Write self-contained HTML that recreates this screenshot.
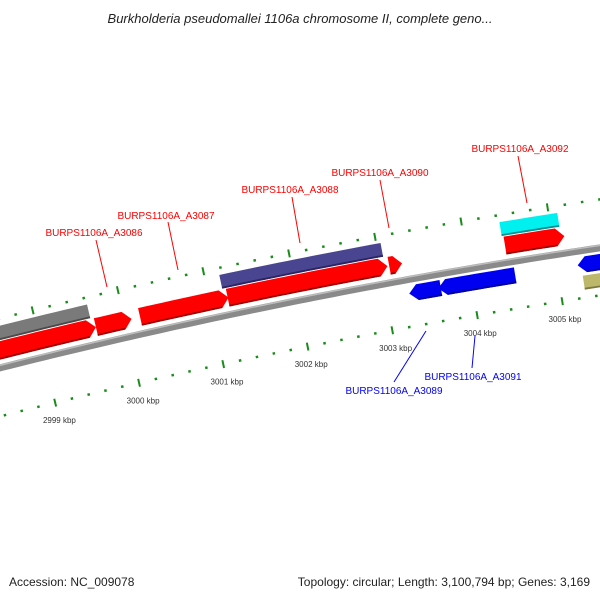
<!DOCTYPE html>
<html><head><meta charset="utf-8"><style>
html,body{margin:0;padding:0;background:#fff;}
svg{display:block;font-family:"Liberation Sans",sans-serif;}
</style></head><body>
<svg id="map" width="600" height="600" viewBox="0 0 600 600" xmlns="http://www.w3.org/2000/svg">
<rect x="0" y="0" width="600" height="600" fill="#fff"/>
<text x="300" y="23" text-anchor="middle" font-size="13" font-style="italic" fill="#222">Burkholderia pseudomallei 1106a chromosome II, complete geno...</text>
<g id="rulers"></g>
<g id="features"></g>
<g id="labels">
  <line x1="96" y1="240" x2="107" y2="287" stroke="#f00" stroke-width="1"/>
  <text x="94" y="236" text-anchor="middle" font-size="10" fill="#f00">BURPS1106A_A3086</text>
  <line x1="168" y1="222" x2="178" y2="270" stroke="#f00" stroke-width="1"/>
  <text x="166" y="219" text-anchor="middle" font-size="10" fill="#f00">BURPS1106A_A3087</text>
  <line x1="292" y1="197" x2="300" y2="243" stroke="#f00" stroke-width="1"/>
  <text x="290" y="193" text-anchor="middle" font-size="10" fill="#f00">BURPS1106A_A3088</text>
  <line x1="380" y1="180" x2="389" y2="228" stroke="#f00" stroke-width="1"/>
  <text x="380" y="176" text-anchor="middle" font-size="10" fill="#f00">BURPS1106A_A3090</text>
  <line x1="518" y1="156" x2="527" y2="203" stroke="#f00" stroke-width="1"/>
  <text x="520" y="152" text-anchor="middle" font-size="10" fill="#f00">BURPS1106A_A3092</text>
  <line x1="394" y1="382" x2="426" y2="331" stroke="#00f" stroke-width="1"/>
  <text x="394" y="394" text-anchor="middle" font-size="10" fill="#00f">BURPS1106A_A3089</text>
  <line x1="472" y1="368" x2="475" y2="336" stroke="#00f" stroke-width="1"/>
  <text x="473" y="380" text-anchor="middle" font-size="10" fill="#00f">BURPS1106A_A3091</text>
</g>
<text x="9" y="586" font-size="12" fill="#222">Accession: NC_009078</text>
<text x="590" y="586" text-anchor="end" font-size="12" fill="#222">Topology: circular; Length: 3,100,794 bp; Genes: 3,169</text>
</svg>
<script>
// feature data (kbp)
const featNames = ['gray-left','red-a3085','red-a3086','red-a3087','red-a3088','red-a3090','red-a3092','purple-a3088','cyan-a3092','blue-a3089','blue-a3091','blue-right','khaki-right'];
const featStart = [2998.0,2998.0,2999.66,3000.18,3001.21,3003.10,3004.45,3001.17,3004.43,3003.27,3003.61,3005.24,3005.28];
const featEnd   = [2999.62,2999.66,3000.08,3001.22,3003.08,3003.25,3005.14,3003.05,3005.10,3003.64,3004.51,3006.2,3006.2];
const featStrand= [0,1,1,1,1,1,1,0,0,-1,-1,-1,0];
const featColor = ['#7a7a7a','#ff0000','#ff0000','#ff0000','#ff0000','#ff0000','#ff0000','#4a4590','#00f0f0','#0000f0','#0000f0','#0000f0','#bdb76b'];
const featDark  = ['#4a4a4a','#a00000','#a00000','#a00000','#a00000','#a00000','#a00000','#2a2560','#009090','#0000a0','#0000a0','#0000a0','#7d7840'];
const featRadius= [6236,6219,6219,6219,6219,6219,6219,6236,6236,6188,6188,6188,6170];
const featHeight= [14,18,18,18,18,18,18,14,14,16,16,16,14];
const rulerStart = 2998, rulerEnd = 3006.2;
const majorLabels = ['2999 kbp','3000 kbp','3001 kbp','3002 kbp','3003 kbp','3004 kbp','3005 kbp'];
const majorValues = [2999,3000,3001,3002,3003,3004,3005];

const cx=1515, cy=6382;
const NS='http://www.w3.org/2000/svg';
function ang(k){return (-13.72+(k-2999)*0.8025)*Math.PI/180;}
function pt(k,r){const a=ang(k);return [cx+r*Math.sin(a), cy-r*Math.cos(a)];}
function arcPts(s,e,r){const n=Math.max(2,Math.ceil((e-s)/0.1));const p=[];for(let i=0;i<=n;i++)p.push(pt(s+(e-s)*i/n,r));return p;}
function P(a){return a.map(q=>q[0].toFixed(2)+','+q[1].toFixed(2)).join(' ');}

const rul=document.getElementById('rulers');
const fg=document.getElementById('features');

// backbone
{
  const outer=arcPts(rulerStart,rulerEnd,6205.5), inner=arcPts(rulerStart,rulerEnd,6198.5).reverse();
  const bb=document.createElementNS(NS,'polygon');
  bb.setAttribute('points',P(outer.concat(inner)));
  bb.setAttribute('fill','#8a8a8a');
  
  
  fg.appendChild(bb);
  const hl=document.createElementNS(NS,'polyline');
  hl.setAttribute('points',P(arcPts(rulerStart,rulerEnd,6204.5)));
  hl.setAttribute('fill','none');hl.setAttribute('stroke','#bdbdbd');hl.setAttribute('stroke-width','1.5');
  
  
  fg.appendChild(hl);
}

// rulers
function drawRuler(r0,dir,name){
  for(let i=Math.round(rulerStart*5);i<=Math.round(rulerEnd*5);i++){
    const k=i/5, major=(i%5===0);
    const len=major?8:2.5;
    const a=pt(k,r0-dir*(major?4:1.25)), b=pt(k,r0+dir*(major?4:1.25));
    const l=document.createElementNS(NS,'line');
    l.setAttribute('x1',a[0]);l.setAttribute('y1',a[1]);l.setAttribute('x2',b[0]);l.setAttribute('y2',b[1]);
    l.setAttribute('stroke','#1a8c1a');l.setAttribute('stroke-width',major?'2':'2.5');
    
    
    rul.appendChild(l);
  }
}
drawRuler(6250,1,'upper-ruler');
drawRuler(6155,1,'lower-ruler');
majorValues.forEach((v,i)=>{
  const p=pt(v,6137);
  const t=document.createElementNS(NS,'text');
  t.setAttribute('x',p[0].toFixed(1));t.setAttribute('y',(p[1]+3).toFixed(1));
  t.setAttribute('text-anchor','middle');t.setAttribute('font-size','8');t.setAttribute('fill','#333');
  t.textContent=majorLabels[i];
  
  
  rul.appendChild(t);
});

// features
const HL=0.095;
featNames.forEach((nm,i)=>{
  const s=featStart[i], e=featEnd[i], r=featRadius[i], h=featHeight[i], st=featStrand[i];
  const ro=r+h/2, ri=r-h/2;
  let pts;
  if(st===1){
    const b=Math.max(s,e-HL);
    pts=arcPts(s,b,ro).concat([pt(e,r)]).concat(arcPts(s,b,ri).reverse());
  }else if(st===-1){
    const b=Math.min(e,s+HL);
    pts=[pt(s,r)].concat(arcPts(b,e,ro)).concat(arcPts(b,e,ri).reverse());
  }else{
    pts=arcPts(s,e,ro).concat(arcPts(s,e,ri).reverse());
  }
  const g=document.createElementNS(NS,'polygon');
  g.setAttribute('points',P(pts));
  g.setAttribute('fill',featColor[i]);
  
  
  fg.appendChild(g);
  // dark lower edge
  let ds=s, de=e;
  if(st===1) de=e-HL; if(st===-1) ds=s+HL;
  const d=arcPts(ds,de,ri+1.8).concat(arcPts(ds,de,ri).reverse());
  const dk=document.createElementNS(NS,'polygon');
  dk.setAttribute('points',P(d));
  dk.setAttribute('fill',featDark[i]);
  
  
  fg.appendChild(dk);
});
</script>
</body></html>
